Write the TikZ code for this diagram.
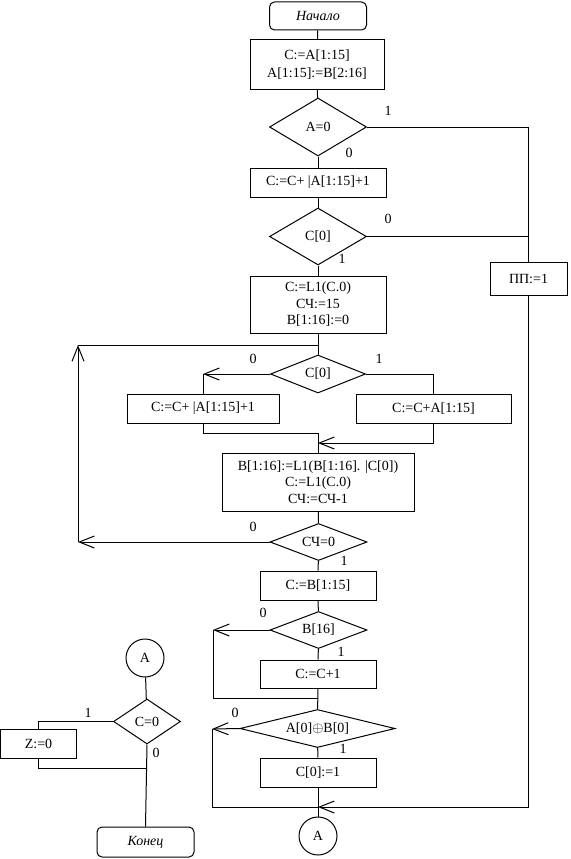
\documentclass[tikz,border=0pt]{standalone}
\usepackage{fontspec}
\setmainfont{Liberation Serif}
\usetikzlibrary{shapes.geometric,arrows.meta}
\begin{document}
\begin{tikzpicture}[x=1pt, y=-1pt, line width=1pt,
  every node/.style={font=\fontsize{14}{16.5}\selectfont},
  box/.style={draw, rectangle, align=center, inner sep=1pt},
  dec/.style={draw, diamond, aspect=2.5, inner sep=0pt},
  term/.style={draw, rounded corners=5pt, font=\fontsize{14}{16.5}\selectfont\itshape},
  conn/.style={draw, circle, minimum size=38pt, inner sep=0pt},
  flow/.style={-{Straight Barb[length=15pt,width=12pt]}},
  lbl/.style={inner sep=0pt}]
  \useasboundingbox (0,0) rectangle (570,859);
  % main column
  \node[term, minimum width=97pt, minimum height=28pt] (start) at (318,16) {Начало};
  \node[box, minimum width=134pt, minimum height=49pt] (b1) at (317,64.5) {C:=A[1:15]\\[2pt]A[1:15]:=B[2:16]};
  \node[dec, minimum width=97pt, minimum height=58pt] (d1) at (318,127) {A=0};
  \node[box, minimum width=136pt, minimum height=29pt] (b2) at (318,182.5) {C:=C+ |A[1:15]+1};
  \node[dec, minimum width=97pt, minimum height=57pt] (d2) at (318,236.5) {C[0]};
  \node[box, minimum width=77pt, minimum height=33pt] (pp) at (528.5,279) {ПП:=1};
  \node[box, minimum width=136pt, minimum height=57pt] (b3) at (318,304.5) {C:=L1(C.0)\\СЧ:=15\\В[1:16]:=0};
  \node[dec, minimum width=95pt, minimum height=38pt] (d3) at (318,374) {C[0]};
  \node[box, minimum width=152pt, minimum height=29pt] (bl) at (203,408.5) {C:=C+ |A[1:15]+1};
  \node[box, minimum width=155pt, minimum height=29pt] (br) at (433.5,408.5) {C:=C+A[1:15]};
  \node[box, minimum width=192pt, minimum height=58pt] (b4) at (318,482) {B[1:16]:=L1(B[1:16]. |C[0])\\C:=L1(C.0)\\СЧ:=СЧ-1};
  \node[dec, minimum width=97pt, minimum height=37pt] (d4) at (318.5,542) {СЧ=0};
  \node[box, minimum width=116pt, minimum height=29pt] (b5) at (318,585.5) {C:=B[1:15]};
  \node[dec, minimum width=97pt, minimum height=37pt] (d5) at (318.5,630) {B[16]};
  \node[box, minimum width=116pt, minimum height=28pt] (b6) at (318,674) {C:=C+1};
  \node[dec, aspect=4, minimum width=155pt, minimum height=38pt] (d6) at (317.5,728.5) {A[0]$\oplus$B[0]};
  \node[box, minimum width=116pt, minimum height=29pt] (b7) at (318,772.5) {C[0]:=1};
  \node[conn] (ca) at (318,836) {A};
  % final part
  \node[conn] (cb) at (145,658) {A};
  \node[dec, minimum width=67pt, minimum height=45pt] (d7) at (147,721.5) {C=0};
  \node[box, minimum width=76pt, minimum height=29pt] (bz) at (38.5,743.5) {Z:=0};
  \node[term, minimum width=97pt, minimum height=30pt] (fin) at (145.5,842) {Конец};
  % junctions
  \coordinate (j1) at (318,345);
  \coordinate (lp1) at (78,542);
  \coordinate (lp2) at (78,345);
  \coordinate (c3l) at (203,374);
  \coordinate (j2) at (318,433);
  \coordinate (j3) at (318,443);
  \coordinate (c5l) at (213,630);
  \coordinate (j4) at (318,698);
  \coordinate (c6l) at (212,729);
  \coordinate (j5) at (318,807);
  \coordinate (j6) at (146,768);
  % connectors
  \draw (start) -- (b1);
  \draw (b1) -- (d1);
  \draw (d1) -- (b2);
  \draw (b2) -- (d2);
  \draw (d2) -- (b3);
  \draw (b3) -- (d3);
  \draw (d1.east) -| (pp.north);
  \draw (d2.east) -- (d2.east -| pp.north);
  \draw[flow] (d4.west) -- (lp1);
  \draw[flow] (lp1) -- (lp2);
  \draw (lp2) -- (j1);
  \draw[flow] (d3.west) -- (c3l);
  \draw (c3l) -- (bl.north);
  \draw (d3.east) -| (br.north);
  \draw (bl.south) |- (j2);
  \draw[flow] (br.south) |- (j3);
  \draw (j2) -- (b4.north);
  \draw (b4) -- (d4);
  \draw (d4) -- (b5);
  \draw (b5) -- (d5);
  \draw (d5) -- (b6);
  \draw (b6) -- (d6);
  \draw[flow] (d5.west) -- (c5l);
  \draw (c5l) |- (j4);
  \draw (d6) -- (b7);
  \draw (b7) -- (ca);
  \draw[flow] (d6.west) -- (c6l);
  \draw (c6l) |- (j5);
  \draw[flow] (pp.south) |- (j5);
  \draw (cb) -- (d7);
  \draw (d7.west) -| (bz.north);
  \draw (bz.south) |- (j6);
  \draw (d7.south) -- (fin.north);
  % branch labels
  \node[lbl] (l1a) at (388,111) {1};
  \node[lbl] (l1b) at (349,153) {0};
  \node[lbl] (l2a) at (388,219) {0};
  \node[lbl] (l2b) at (342,259) {1};
  \node[lbl] (l3a) at (253,359) {0};
  \node[lbl] (l3b) at (379,359) {1};
  \node[lbl] (l4a) at (253,527) {0};
  \node[lbl] (l4b) at (344,561) {1};
  \node[lbl] (l5a) at (263,613) {0};
  \node[lbl] (l5b) at (341,652) {1};
  \node[lbl] (l6a) at (235,713) {0};
  \node[lbl] (l6b) at (343,749) {1};
  \node[lbl] (l7a) at (88,713) {1};
  \node[lbl] (l7b) at (156,753) {0};
\end{tikzpicture}
\end{document}
